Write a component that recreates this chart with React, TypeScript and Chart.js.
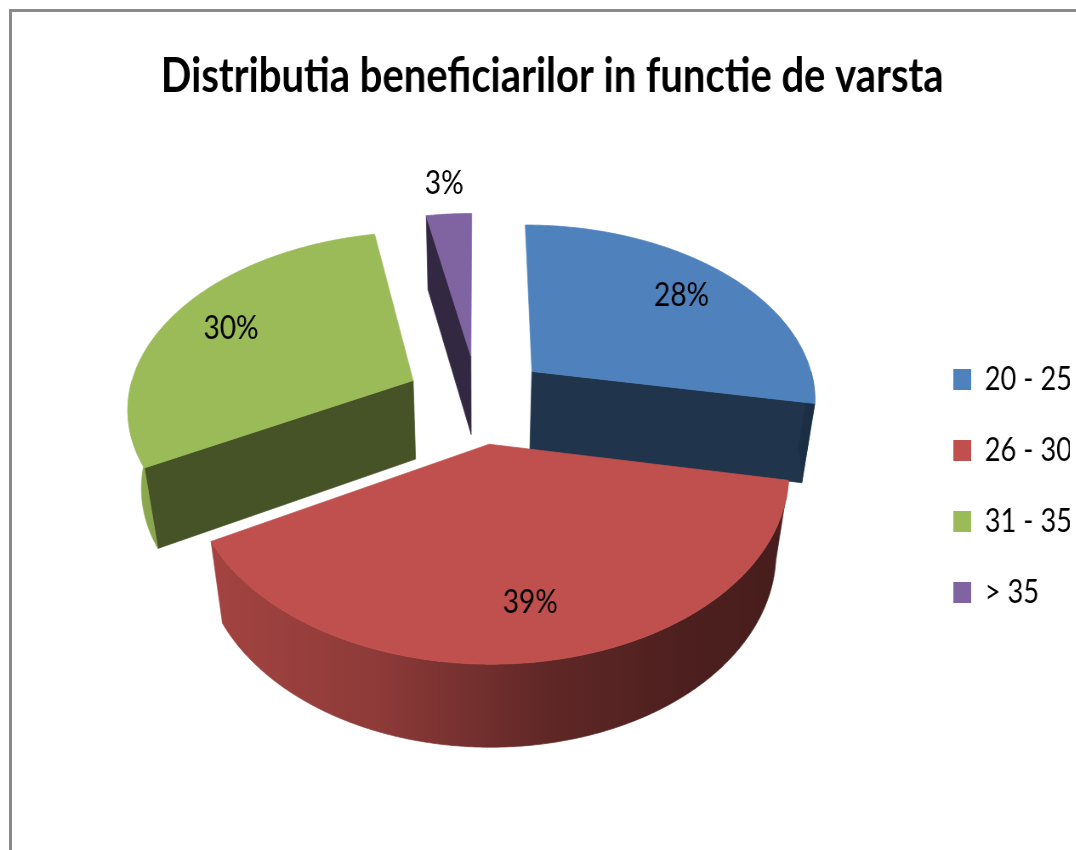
import React, { useEffect, useRef } from 'react';
import { Chart, registerables } from 'chart.js';

Chart.register(...registerables);

// ---- data ----
const TITLE = 'Distributia beneficiarilor in functie de varsta';
const CATEGORIES = ['20 - 25', '26 - 30', '31 - 35', '> 35'];
const VALUES = [28, 39, 30, 3];
const COLORS = ['#4F81BD', '#C0504D', '#9BBB59', '#8064A2'];

// ---- look ----
const SQUEEZE = 0.85; // the reference is horizontally condensed
const VIEW_W = 1076;
const VIEW_H = 850;
const EXTRA_RIGHT = 4;
const RIGHT_PAD = 12;
const CANVAS_W = Math.round(VIEW_W / SQUEEZE) + EXTRA_RIGHT;

const TILT = 0.52; // vertical foreshortening of the disc
const PERSP = 0.142; // perspective strength (relative to radius)
const DEPTH_V = 0.245; // slab thickness on screen (relative to radius)
const DEPTH_W = 0.04; // perspective term of the slab thickness
const EXPLODE = 0.253; // explosion distance (relative to radius)
const LIFT = 0.245; // disc centre above the centre of the plot area
const LABEL_IN = 0.76;
const LABEL_OUT = 1.25;

function shade(hex: string, f: number): string {
  const n = parseInt(hex.slice(1), 16);
  const r = Math.min(255, Math.round(((n >> 16) & 255) * f));
  const g = Math.min(255, Math.round(((n >> 8) & 255) * f));
  const b = Math.min(255, Math.round((n & 255) * f));
  return `rgb(${r},${g},${b})`;
}

const pie3dPlugin = {
  id: 'pie3d',
  beforeDatasetsDraw(chart: any) {
    const meta = chart.getDatasetMeta(0);
    const arcs = meta.data;
    if (!arcs || !arcs.length) return false;
    const ctx = chart.ctx;
    const base = arcs[0].getProps(['x', 'y', 'outerRadius'], true);
    const cx = base.x;
    const R = base.outerRadius;
    const cy = base.y - LIFT * R;
    const values: number[] = chart.data.datasets[0].data;
    const total = values.reduce((a, b) => a + b, 0);
    const colors: string[] = chart.data.datasets[0].backgroundColor;

    const proj = (X: number, Z: number, bottom: boolean) => {
      const w = 1 - (Z / R) * PERSP + (bottom ? DEPTH_W : 0);
      return [cx + X / w, cy + (Z * TILT + (bottom ? DEPTH_V * R : 0)) / w];
    };

    const slices = arcs.map((arc: any, i: number) => {
      const p = arc.getProps(['startAngle', 'endAngle'], true);
      const m = (p.startAngle + p.endAngle) / 2;
      return {
        i,
        s: p.startAngle,
        e: p.endAngle,
        m,
        ox: Math.cos(m) * EXPLODE * R,
        oz: Math.sin(m) * EXPLODE * R,
      };
    });

    const order = slices.slice().sort((a: any, b: any) => Math.sin(a.m) - Math.sin(b.m));

    const poly = (pts: number[][], fill: any) => {
      ctx.beginPath();
      pts.forEach((p, k) => (k ? ctx.lineTo(p[0], p[1]) : ctx.moveTo(p[0], p[1])));
      ctx.closePath();
      ctx.fillStyle = fill;
      ctx.fill();
      ctx.strokeStyle = fill;
      ctx.lineWidth = 0.7;
      ctx.stroke();
    };

    const faceShade = (normalAngle: number) => 0.4 + 0.09 * Math.max(Math.cos(normalAngle), 0);

    const STEP = Math.PI / 360;
    ctx.save();
    order.forEach((sl: any) => {
      const col = colors[sl.i];
      const rim = (a: number, bottom: boolean) =>
        proj(sl.ox + R * Math.cos(a), sl.oz + R * Math.sin(a), bottom);
      const apex = (bottom: boolean) => proj(sl.ox, sl.oz, bottom);

      // radial cut faces
      if (Math.cos(sl.s) < 0) {
        poly(
          [apex(false), rim(sl.s, false), rim(sl.s, true), apex(true)],
          shade(col, faceShade(sl.s - Math.PI / 2))
        );
      }
      if (Math.cos(sl.e) > 0) {
        poly(
          [apex(false), rim(sl.e, false), rim(sl.e, true), apex(true)],
          shade(col, faceShade(sl.e + Math.PI / 2))
        );
      }

      // outer wall (front half only)
      const a0 = Math.max(sl.s, 0);
      const a1 = Math.min(sl.e, Math.PI);
      if (a1 > a0) {
        const top: number[][] = [];
        const bot: number[][] = [];
        for (let a = a0; a < a1; a += STEP) {
          top.push(rim(a, false));
          bot.push(rim(a, true));
        }
        top.push(rim(a1, false));
        bot.push(rim(a1, true));
        const g = ctx.createLinearGradient(cx - 1.2 * R, 0, cx + 1.2 * R, 0);
        g.addColorStop(0, shade(col, 0.9));
        g.addColorStop(0.35, shade(col, 0.74));
        g.addColorStop(0.6, shade(col, 0.5));
        g.addColorStop(0.8, shade(col, 0.4));
        g.addColorStop(1, shade(col, 0.36));
        poly(top.concat(bot.reverse()), g);
      }

      // top face
      const pts: number[][] = [apex(false)];
      for (let a = sl.s; a < sl.e; a += STEP) pts.push(rim(a, false));
      pts.push(rim(sl.e, false));
      poly(pts, col);
    });

    // data labels
    ctx.fillStyle = '#000';
    ctx.font = '33px Lato';
    ctx.textAlign = 'center';
    ctx.textBaseline = 'middle';
    slices.forEach((sl: any) => {
      const pct = (values[sl.i] / total) * 100;
      const r = pct < 5 ? LABEL_OUT : LABEL_IN;
      const p = proj(sl.ox + r * R * Math.cos(sl.m), sl.oz + r * R * Math.sin(sl.m), false);
      ctx.fillText(`${Math.round(pct)}%`, p[0], p[1]);
    });
    ctx.restore();
    return false;
  },
};

export default function App() {
  const ref = useRef<HTMLCanvasElement | null>(null);
  useEffect(() => {
    if (!ref.current) return;
    const chart = new Chart(ref.current, {
      type: 'pie',
      data: {
        labels: CATEGORIES,
        datasets: [
          {
            data: VALUES,
            backgroundColor: COLORS,
            borderWidth: 0,
            radius: '91%',
          } as any,
        ],
      },
      options: {
        responsive: false,
        devicePixelRatio: 1,
        animation: false,
        layout: { padding: { left: 41, right: RIGHT_PAD, top: 0, bottom: 0 } },
        plugins: {
          title: {
            display: true,
            text: TITLE,
            color: '#000',
            font: { family: 'Lato', size: 47, weight: 'bold' },
            padding: { top: 49, bottom: 7 },
          },
          legend: {
            position: 'right',
            fullSize: false,
            maxWidth: 176,
            title: { display: true, text: '', font: { size: 8 }, padding: 0 },
            labels: {
              color: '#000',
              font: { family: 'Lato', size: 32 },
              boxWidth: 21,
              boxHeight: 21,
              padding: 39,
            },
          },
          tooltip: { enabled: false },
        },
      },
      plugins: [pie3dPlugin],
    });
    return () => chart.destroy();
  }, []);
  return (
    <div
      style={{
        position: 'fixed',
        left: 0,
        top: 0,
        width: VIEW_W,
        height: VIEW_H,
        overflow: 'hidden',
        background: '#fff',
      }}
    >
      <div
        style={{
          position: 'absolute',
          left: 9,
          top: 9,
          width: 2000,
          height: 2000,
          borderTop: '3px solid #8a8a8a',
          borderLeft: '3px solid #8a8a8a',
        }}
      />
      <canvas
        ref={ref}
        width={CANVAS_W}
        height={VIEW_H}
        style={{
          position: 'absolute',
          left: 0,
          top: 0,
          width: CANVAS_W * SQUEEZE,
          height: VIEW_H,
          display: 'block',
        }}
      />
    </div>
  );
}
